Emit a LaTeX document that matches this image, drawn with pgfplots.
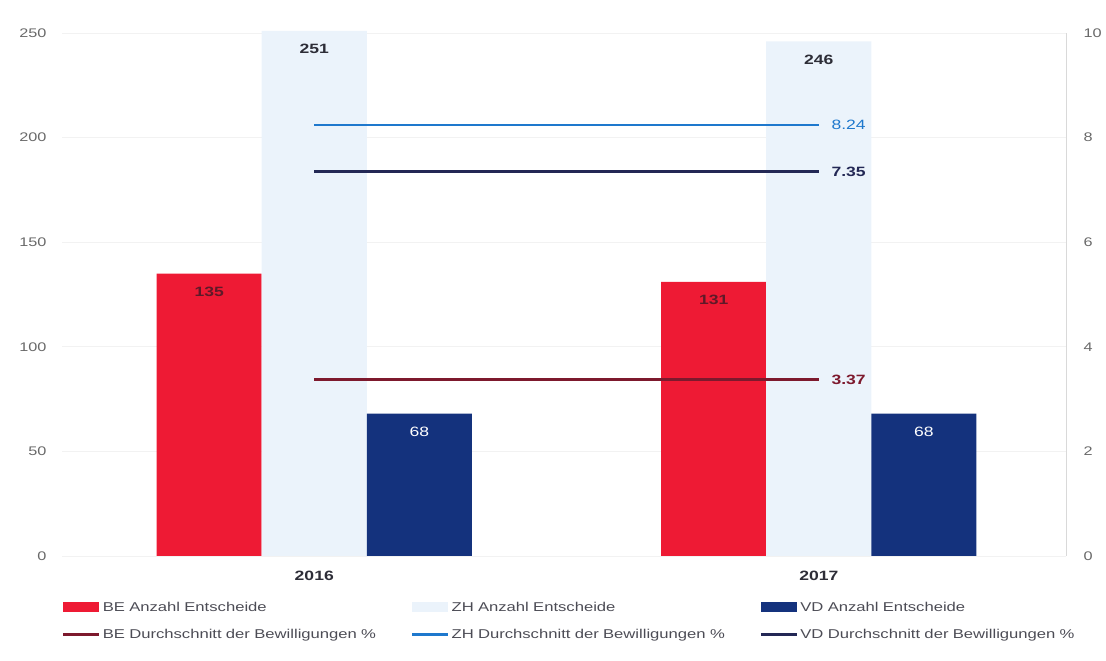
\documentclass[border=0pt]{standalone}
\usepackage{pgfplots}
\pgfplotsset{compat=1.18}
\usepackage{fontspec}
\setmainfont{Liberation Sans}[FakeStretch=1.3]
\definecolor{bered}{RGB}{238,26,52}
\definecolor{zhbar}{RGB}{235,243,251}
\definecolor{vdbar}{RGB}{20,50,125}
\definecolor{beline}{RGB}{125,25,45}
\definecolor{zhline}{RGB}{30,120,205}
\definecolor{vdline}{RGB}{35,40,85}
\definecolor{tickgray}{RGB}{105,105,105}
\definecolor{labeldark}{RGB}{45,45,55}
\definecolor{belabel}{RGB}{95,25,40}
\pgfplotsset{
  barleg/.style={legend image code/.code={\fill[##1] (0pt,-5pt) rectangle (36pt,5pt);}},
  lineleg/.style={legend image code/.code={\draw[##1] (0pt,0pt) -- (36pt,0pt);}},
}
\begin{document}
\begin{tikzpicture}
\path[use as bounding box] (-62pt,-105pt) rectangle (1044pt,556pt);
\begin{axis}[
  at={(0pt,0pt)}, anchor=south west,
  scale only axis, width=1004pt, height=523pt,
  xmin=-0.5, xmax=1.49, ymin=0, ymax=250,
  clip=false,
  ybar, bar width=0.2083,
  xtick={0,1}, xticklabels={2016,2017},
  ytick={0,50,...,250},
  axis line style={draw=none},
  major tick length=0pt,
  ymajorgrids, grid style={draw=gray!10, line width=0.6pt},
  /pgf/number format/assume math mode=true,
  yticklabel style={font=\fontsize{12.5}{15}\selectfont, text=tickgray, xshift=-12pt},
  xticklabel style={font=\bfseries\fontsize{13.5}{16}\selectfont, text=labeldark, yshift=-12pt},
  nodes near coords,
  nodes near coords align={below},
  every node near coord/.append style={yshift=-10pt, font=\bfseries\fontsize{13.5}{16}\selectfont},
]
\addplot[fill=bered, draw=none, bar shift=-0.2083, nodes near coords style={text=belabel}]
  coordinates {(0,135) (1,131)};
\addplot[fill=zhbar, draw=none, bar shift=0, nodes near coords style={text=labeldark}]
  coordinates {(0,251) (1,246)};
\addplot[fill=vdbar, draw=none, bar shift=0.2083, nodes near coords style={text=white, font=\fontsize{13.5}{16}\selectfont}]
  coordinates {(0,68) (1,68)};
\end{axis}
\begin{axis}[
  at={(0pt,0pt)}, anchor=south west,
  scale only axis, width=1004pt, height=523pt,
  xmin=-0.5, xmax=1.49, ymin=0, ymax=10,
  axis x line=none, axis y line*=right,
  y axis line style={draw=gray!30, line width=0.6pt, -},
  every outer y axis line/.append style={-},
  ytick={0,2,...,10}, major tick length=0pt,
  /pgf/number format/assume math mode=true,
  yticklabel style={font=\fontsize{12.5}{15}\selectfont, text=tickgray, xshift=14pt},
  legend columns=3, legend cell align=left,
  legend style={at={(0,0)}, anchor=north west, xshift=0pt, yshift=-44pt,
    draw=none, fill=none, inner sep=0pt, outer sep=0pt, row sep=12pt,
    font=\fontsize{12.8}{15}\selectfont, text=labeldark!85,
    nodes={text width=306pt, align=left}},
]
\addlegendimage{fill=bered, draw=none, barleg}
\addlegendentry{BE Anzahl Entscheide}
\addlegendimage{fill=zhbar, draw=none, barleg}
\addlegendentry{ZH Anzahl Entscheide}
\addlegendimage{fill=vdbar, draw=none, barleg}
\addlegendentry{VD Anzahl Entscheide}
\addplot[beline, line width=2.8pt, lineleg]
  coordinates {(0,3.37) (1,3.37)}
  node[pos=1, anchor=west, xshift=8pt, text=beline, font=\bfseries\fontsize{13.5}{16}\selectfont] {3.37};
\addlegendentry{BE Durchschnitt der Bewilligungen \%}
\addplot[zhline, line width=2.8pt, lineleg]
  coordinates {(0,8.24) (1,8.24)}
  node[pos=1, anchor=west, xshift=8pt, text=zhline, font=\fontsize{13.5}{16}\selectfont] {8.24};
\addlegendentry{ZH Durchschnitt der Bewilligungen \%}
\addplot[vdline, line width=2.8pt, lineleg]
  coordinates {(0,7.35) (1,7.35)}
  node[pos=1, anchor=west, xshift=8pt, text=vdline, font=\bfseries\fontsize{13.5}{16}\selectfont] {7.35};
\addlegendentry{VD Durchschnitt der Bewilligungen \%}
\end{axis}
\end{tikzpicture}
\end{document}
